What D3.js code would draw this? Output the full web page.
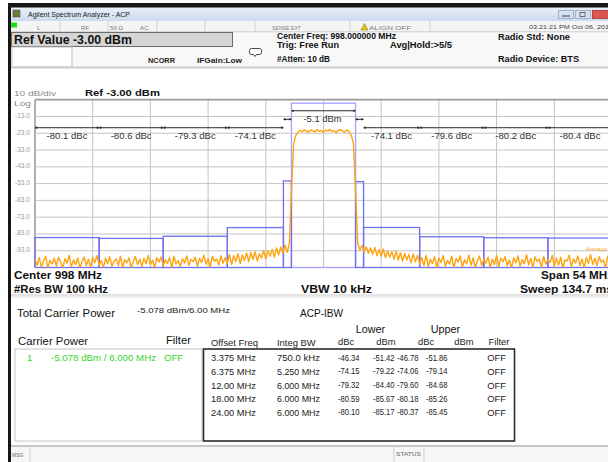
<!DOCTYPE html>
<html><head><meta charset="utf-8">
<script src="https://cdn.jsdelivr.net/npm/d3@7"></script>
<style>
html,body{margin:0;padding:0;background:#fff;overflow:hidden}
svg{display:block}
text{font-family:"Liberation Sans",Arial,sans-serif}
</style>
</head><body>
<svg id="c" width="608" height="462"></svg>
<script>
// ---------------- DATA ----------------
const refLevel = -3;          // dBm (top of graticule)
const bottomLevel = -103;     // dBm (bottom of graticule)
const centerMHz = 998;
const spanMHz = 54;
const yTickValues = [-13, -23, -33, -43, -53, -63, -73, -83, -93];

const carrierBW = 6.0;        // MHz
const carrierPower = -5.078;  // dBm

const offsetFreq = [3.375, 6.375, 12.00, 18.00, 24.00];          // MHz
const integBW    = [0.750, 5.250, 6.000, 6.000, 6.000];          // MHz
const offsetLabels = ["3.375 MHz","6.375 MHz","12.00 MHz","18.00 MHz","24.00 MHz"];
const bwLabels     = ["750.0 kHz","5.250 MHz","6.000 MHz","6.000 MHz","6.000 MHz"];
const lowerDbc = [-46.34, -74.15, -79.32, -80.59, -80.10];
const lowerDbm = [-51.42, -79.22, -84.40, -85.67, -85.17];
const upperDbc = [-46.78, -74.06, -79.60, -80.18, -80.37];
const upperDbm = [-51.86, -79.14, -84.68, -85.26, -85.45];
const filterState = ["OFF","OFF","OFF","OFF","OFF"];

// spectrum trace (dBm, 100 kHz RBW), offsets from -27 MHz in 0.2 MHz steps
const traceStart = -27, traceStep = 0.2;
const traceLevels = [
 -98.2,-101.5,-97.1,-102.8,-99.0,-96.4,-103.5,-98.7,-100.9,-97.6,
 -102.1,-96.9,-99.8,-103.2,-97.8,-100.4,-95.7,-102.6,-98.5,-101.3,
 -97.3,-103.8,-99.4,-96.8,-101.9,-98.1,-102.7,-97.0,-100.2,-95.9,
 -101.6,-98.9,-103.1,-97.4,-100.7,-96.6,-102.3,-99.2,-97.9,-101.8,
 -96.2,-102.9,-98.4,-100.1,-97.2,-103.4,-99.6,-96.5,-101.2,-98.0,
 -102.5,-97.5,-100.8,-95.8,-101.4,-98.6,-103.0,-97.1,-99.9,-96.7,
 -102.0,-98.3,-100.6,-97.0,-103.3,-96.3,-101.0,-98.8,-102.4,-97.7,
 -100.3,-96.1,-101.7,-98.2,-99.5,-96.9,-102.2,-97.4,-100.0,-95.6,
 -101.1,-97.8,-102.6,-96.4,-99.3,-97.9,-101.5,-96.0,-100.5,-97.2,
 -100.5,-95.2,-101.2,-96.0,-99.4,-94.7,-100.6,-95.5,-98.9,-94.3,
 -99.6,-94.0,-98.3,-93.6,-99.1,-94.8,-97.4,-92.9,-97.8,-93.1,
 -96.3,-92.2,-96.8,-91.4,-95.5,-90.8,-94.6,-89.6,-93.9,-89.0,
 -58.0,-29.5,-24.6,-22.4,
 -21.3,-22.1,-20.9,-21.8,-22.4,-21.0,-21.6,-22.2,-20.8,-21.9,-21.4,-22.5,
 -21.1,-21.7,-20.7,-22.0,-21.5,-22.6,-21.2,-20.9,-21.8,-22.3,-21.0,
 -22.1,-24.3,-29.0,-57.0,
 -88.4,-92.6,-89.9,-93.8,-90.7,-94.5,-91.3,-95.2,-91.0,-95.9,
 -92.4,-96.3,-92.0,-97.1,-93.3,-96.8,-93.6,-98.0,-93.1,-98.6,
 -94.2,-99.1,-94.6,-98.4,-95.3,-100.2,-94.9,-99.7,-95.6,-100.8,
 -97.0,-101.9,-95.8,-102.4,-98.1,-100.7,-96.6,-103.1,-97.5,-100.1,
 -95.9,-102.2,-98.8,-101.0,-96.3,-103.6,-97.7,-99.6,-96.0,-102.8,
 -98.4,-100.9,-95.5,-101.7,-97.3,-103.0,-99.1,-96.2,-102.0,-97.9,
 -100.5,-96.8,-103.3,-98.0,-101.2,-95.7,-102.5,-97.4,-99.7,-96.5,
 -101.8,-98.6,-103.5,-97.1,-100.3,-96.0,-102.1,-98.3,-100.8,-95.4,
 -101.4,-97.6,-102.9,-96.7,-99.5,-97.9,-103.2,-96.4,-101.0,-98.2,
 -100.0,-95.8,-102.3,-97.3,-101.6,-96.9,-103.4,-98.5,-99.2,-95.6,
 -102.7,-97.8,-100.4,-96.1,-101.9,-98.0,-103.0,-97.0,-100.6,-95.3,
 -101.3,-97.5,-102.0,-96.6,-99.8,-98.7,-103.1,-96.2,-100.9,-95.9
];

// ---------------- DRAWING ----------------
const svg = d3.select("#c");
function txt(x, y, s, o = {}) {
  const t = svg.append("text").attr("x", x).attr("y", y).text(s)
    .attr("font-size", o.size || 8)
    .attr("fill", o.fill || "#111")
    .attr("font-weight", o.bold ? "bold" : "normal")
    .attr("text-anchor", o.anchor || "start")
    .attr("dominant-baseline", "central");
  if (o.len) t.attr("textLength", o.len).attr("lengthAdjust", "spacingAndGlyphs");
  return t;
}
function rect(x, y, w, h, fill, stroke, sw) {
  return svg.append("rect").attr("x", x).attr("y", y).attr("width", w).attr("height", h)
    .attr("fill", fill || "none").attr("stroke", stroke || "none").attr("stroke-width", sw || 1);
}
function line(x1, y1, x2, y2, stroke, sw) {
  return svg.append("line").attr("x1", x1).attr("y1", y1).attr("x2", x2).attr("y2", y2)
    .attr("stroke", stroke).attr("stroke-width", sw || 1);
}

rect(0, 0, 608, 462, "#fff");

// window frame
const defs = svg.append("defs");
const g1 = defs.append("linearGradient").attr("id", "tb").attr("x1", 0).attr("y1", 0).attr("x2", 0).attr("y2", 1);
g1.append("stop").attr("offset", "0%").attr("stop-color", "#e9f0f9");
g1.append("stop").attr("offset", "100%").attr("stop-color", "#cddbee");
rect(11, 7, 597, 14, "url(#tb)");
rect(8, 3, 600, 4.5, "#161616");
rect(8, 3, 3, 459, "#161616");
rect(13, 10, 7, 7, "#6f7d3c", "#444", 0.5);
txt(28, 14.5, "Agilent Spectrum Analyzer - ACP", { size: 7, fill: "#222", len: 102 });
// window buttons
rect(558.5, 10.5, 15, 8, "#d6e1f0", "#8fa3bf", 0.8);
line(562, 16, 570, 16, "#555", 1.2);
rect(575.5, 10.5, 15, 8, "#d6e1f0", "#8fa3bf", 0.8);
rect(580, 12.5, 5, 4, "none", "#555", 0.8);
rect(592.5, 10.5, 18, 8, "#d9574e", "#a33", 0.8);

// status row
rect(11, 21, 597, 11, "#f4f4f4");
line(11, 32, 608, 32, "#bdbdbd", 1);
[60, 108, 157, 205, 255, 350, 430].forEach(x => line(x, 21, x, 32, "#cfcfcf", 1));
rect(11, 22.5, 6, 5, "#1fe01f");
const stTxt = { size: 6.2, fill: "#7a7a7a" };
txt(37, 27, "L", stTxt);
txt(81, 27, "RF", stTxt);
txt(110, 27, "50 Ω", stTxt);
txt(140, 27, "AC", stTxt);
txt(272, 27, "SENSE:EXT", { ...stTxt, len: 29 });
svg.append("path").attr("d", "M361,30 L364.5,23.5 L368,30 Z").attr("fill", "#e8c21a").attr("stroke", "#8a6d00").attr("stroke-width", 0.5);
txt(369, 27, "ALIGN OFF", { ...stTxt, len: 42 });
txt(529, 27, "03:21:21 PM Oct 06, 2016", { size: 6, fill: "#444", len: 84 });

// header area
rect(11, 32.5, 597, 35, "#f8f8f8");
rect(11.5, 32.5, 221, 14, "#d5d5d5", "#6c6c6c", 1);
txt(14, 39.5, "Ref Value -3.00 dBm", { size: 12.3, bold: true, fill: "#111", len: 118 });
rect(12, 47, 60, 20, "#fff", "#bbb", 1);
txt(148, 60, "NCORR", { size: 6.8, bold: true, fill: "#222", len: 27 });
txt(197, 60, "IFGain:Low", { size: 6.8, bold: true, fill: "#222", len: 45 });
svg.append("path").attr("d", "M251.5,48.5 h8 a2,2 0 0 1 2,2 v2 a2,2 0 0 1 -2,2 h-3 l-1.5,2 l-1.5,-2 h-2 a2,2 0 0 1 -2,-2 v-2 a2,2 0 0 1 2,-2 z")
  .attr("fill", "#fff").attr("stroke", "#333").attr("stroke-width", 0.9);
const hdr = { size: 8.6, bold: true, fill: "#111" };
txt(277, 36, "Center Freq: " + centerMHz.toFixed(6) + " MHz", { ...hdr, len: 119 });
txt(277, 45, "Trig: Free Run", { ...hdr, len: 62 });
txt(390, 44.5, "Avg|Hold:>5/5", { ...hdr, len: 62 });
txt(277, 59, "#Atten: 10 dB", { ...hdr, len: 53 });
txt(498, 36.5, "Radio Std: None", { ...hdr, len: 72 });
txt(498, 59, "Radio Device: BTS", { ...hdr, len: 81 });
line(11, 67.5, 608, 67.5, "#cdcdcd", 2);

// ---------------- plot ----------------
const x = d3.scaleLinear().domain([-spanMHz / 2, spanMHz / 2]).range([35, 612]);
const y = d3.scaleLinear().domain([bottomLevel, refLevel]).range([267.5, 99.7]);

txt(14, 93, "10 dB/div", { size: 7.6, fill: "#8a8a8a", len: 42 });
txt(85, 93, "Ref " + refLevel.toFixed(2) + " dBm", { size: 9.2, bold: true, fill: "#111", len: 75 });
txt(14, 103.5, "Log", { size: 7.6, fill: "#8a8a8a", len: 17 });

const grid = svg.append("g");
d3.range(0, 11).forEach(k => {
  const f = -spanMHz / 2 + k * spanMHz / 10;
  grid.append("line").attr("x1", x(f)).attr("x2", x(f)).attr("y1", y(refLevel)).attr("y2", y(bottomLevel))
    .attr("stroke", k === 0 ? "#9a9a9a" : "#c3c3c3").attr("stroke-width", k === 0 ? 1.6 : 1);
});
d3.range(0, 11).forEach(k => {
  const lv = refLevel - k * 10;
  grid.append("line").attr("x1", x(-27)).attr("x2", 612).attr("y1", y(lv)).attr("y2", y(lv))
    .attr("stroke", k === 0 ? "#9a9a9a" : "#c3c3c3").attr("stroke-width", k === 0 ? 1.8 : 1);
});
yTickValues.forEach(v => txt(15, y(v) - 1, v.toFixed(1), { size: 6.6, fill: "#9a9a9a", len: 15 }));

// channel integration boxes
const boxes = svg.append("g");
boxes.append("rect").attr("x", x(-carrierBW / 2)).attr("width", x(carrierBW / 2) - x(-carrierBW / 2))
  .attr("y", y(carrierPower)).attr("height", y(bottomLevel) - y(carrierPower))
  .attr("fill", "none").attr("stroke", "#a7a7ff").attr("stroke-width", 1.4);
offsetFreq.forEach((f, i) => {
  [[-1, lowerDbm[i]], [1, upperDbm[i]]].forEach(([s, lv]) => {
    const a = x(s * (f - integBW[i] / 2)), b = x(s * (f + integBW[i] / 2));
    boxes.append("rect").attr("x", Math.min(a, b)).attr("width", Math.abs(b - a))
      .attr("y", y(lv)).attr("height", y(bottomLevel) - y(lv))
      .attr("fill", "none").attr("stroke", "#6f6ff2").attr("stroke-width", 1.3);
  });
});

// trace
defs.append("clipPath").attr("id", "pc").append("rect")
  .attr("x", x(-27)).attr("y", y(refLevel)).attr("width", x(27) - x(-27)).attr("height", y(bottomLevel) - y(refLevel));
const lineGen = d3.line().x((d, i) => x(traceStart + i * traceStep)).y(d => y(Math.max(d, bottomLevel - 0.3)));
svg.append("path").attr("clip-path", "url(#pc)").datum(traceLevels).attr("d", lineGen)
  .attr("fill", "none").attr("stroke", "#ffa30f").attr("stroke-width", 1.4).attr("stroke-linejoin", "round");
txt(607, 248.5, "Average", { size: 5.8, fill: "#ffab2e", anchor: "end" });

// ACP bars and labels
const ann = svg.append("g");
function bar(f0, f1, lv) {
  const yy = y(lv);
  ann.append("line").attr("x1", x(f0)).attr("x2", x(f1)).attr("y1", yy).attr("y2", yy).attr("stroke", "#2a2a2a").attr("stroke-width", 1);
  [x(f0) + 1.5, x(f1) - 1.5].forEach(cx => ann.append("circle").attr("cx", cx).attr("cy", yy).attr("r", 1.1).attr("fill", "#2a2a2a"));
}
bar(-carrierBW / 2, carrierBW / 2, -9.6);
txt(x(0) - 1, y(-14.6), carrierPower.toFixed(1) + " dBm", { size: 8.6, fill: "#333", anchor: "middle", len: 38 });
bar(-(offsetFreq[0] + integBW[0] / 2), -(offsetFreq[0] - integBW[0] / 2), -14.7);
bar(offsetFreq[0] - integBW[0] / 2, offsetFreq[0] + integBW[0] / 2, -14.7);
offsetFreq.forEach((f, i) => {
  if (i === 0) return;
  bar(-(f + integBW[i] / 2), -(f - integBW[i] / 2), -19.7);
  bar(f - integBW[i] / 2, f + integBW[i] / 2, -19.7);
  const fmt = v => (Math.round(v * 10) / 10).toFixed(1) + " dBc";
  txt(x(-f), y(-24.8), fmt(lowerDbc[i]), { size: 8.8, fill: "#333", anchor: "middle", len: 41 });
  txt(x(f), y(-24.8), fmt(upperDbc[i]), { size: 8.8, fill: "#333", anchor: "middle", len: 41 });
});

// bottom annotation
const bt = { size: 10, bold: true, fill: "#111" };
txt(14, 275.5, "Center  " + centerMHz + " MHz", { ...bt, len: 88 });
txt(14, 289, "#Res BW  100 kHz", { ...bt, len: 94 });
txt(301, 289, "VBW  10 kHz", { ...bt, len: 71 });
txt(613, 275.5, "Span " + spanMHz + " MHz", { ...bt, anchor: "end", len: 72 });
txt(613, 289, "Sweep  134.7 ms", { ...bt, anchor: "end", len: 93 });
line(11, 295, 608, 295, "#c9c9c9", 1);
line(11, 297, 608, 297, "#dcdcdc", 1);

// ---------------- lower panel ----------------
txt(17, 312.5, "Total Carrier Power", { size: 10.5, fill: "#111", len: 98 });
txt(137, 310.5, carrierPower.toFixed(3) + " dBm/" + carrierBW.toFixed(2) + " MHz", { size: 8, fill: "#222", len: 93 });
txt(300, 312.5, "ACP-IBW", { size: 10.5, fill: "#111", len: 43 });
txt(18, 341, "Carrier Power", { size: 10.5, fill: "#111", len: 70 });
txt(166, 340, "Filter", { size: 10.5, fill: "#111", len: 25 });
rect(15, 349, 187, 92, "#fff", "#c4c4c4", 1);
const green = "#35d62c";
txt(27, 357.7, "1", { size: 9.6, fill: green });
txt(51, 357.7, carrierPower.toFixed(3) + " dBm /  " + carrierBW.toFixed(3) + " MHz", { size: 9.6, fill: green, len: 105 });
txt(164, 357.7, "OFF", { size: 9.6, fill: green, len: 19 });

rect(203.5, 349, 311, 92, "#fff", "#2b2b2b", 1.6);
txt(370.5, 329, "Lower", { size: 10.8, fill: "#111", anchor: "middle" });
txt(445.5, 329, "Upper", { size: 10.8, fill: "#111", anchor: "middle" });
const th = { size: 9.4, fill: "#222" };
txt(211, 342, "Offset Freq", { ...th, len: 47 });
txt(277, 342, "Integ BW", th);
txt(346, 341.5, "dBc", { ...th, anchor: "middle" });
txt(386, 341.5, "dBm", { ...th, anchor: "middle" });
txt(426, 341.5, "dBc", { ...th, anchor: "middle" });
txt(464, 341.5, "dBm", { ...th, anchor: "middle" });
txt(499, 341.5, "Filter", { ...th, anchor: "middle" });
const rowY = [357.7, 371.3, 385, 398.6, 412.2];
const num = { size: 8.8, fill: "#222", anchor: "end", len: 21.5 };
offsetFreq.forEach((f, i) => {
  const yy = rowY[i];
  txt(211, yy, offsetLabels[i], { ...th, len: 45 });
  txt(277, yy, bwLabels[i], { ...th, len: 43 });
  txt(359.5, yy, lowerDbc[i].toFixed(2), num);
  txt(394.5, yy, lowerDbm[i].toFixed(2), num);
  txt(418.5, yy, upperDbc[i].toFixed(2), num);
  txt(447.5, yy, upperDbm[i].toFixed(2), num);
  txt(496.5, yy, filterState[i], { ...th, anchor: "middle" });
});

// message bar
line(11, 446, 608, 446, "#b5b5b5", 1.5);
rect(11, 447, 597, 15, "#f6f6f6");
line(30, 447, 30, 462, "#cfcfcf", 1);
line(394, 447, 394, 462, "#cfcfcf", 1);
line(424, 447, 424, 462, "#cfcfcf", 1);
txt(12, 454.5, "MSG", { size: 5, fill: "#666" });
txt(396, 453.5, "STATUS", { size: 5, fill: "#666", len: 25 });
</script>
</body></html>
